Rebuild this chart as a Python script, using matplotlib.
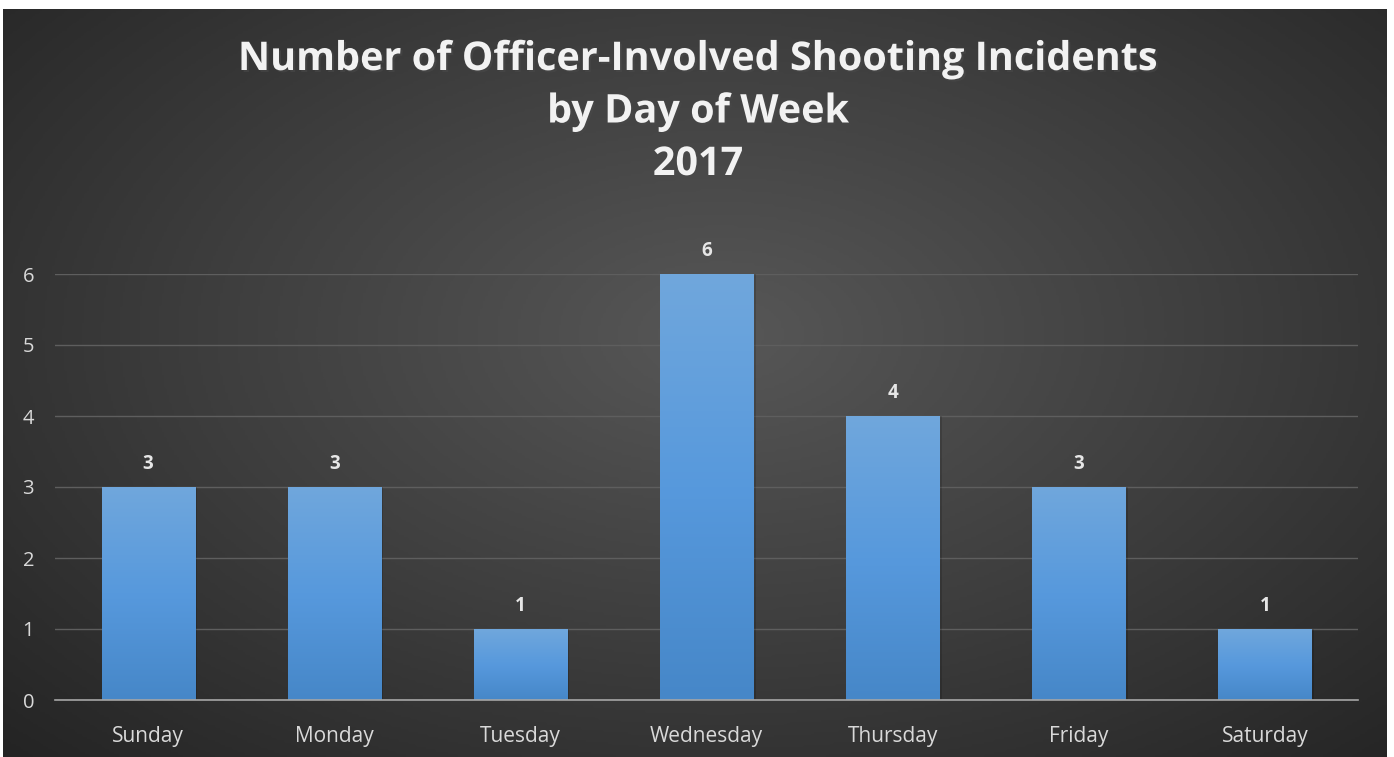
import numpy as np
import matplotlib
matplotlib.use("Agg")
import matplotlib.pyplot as plt
import matplotlib.patheffects as pe
from matplotlib.colors import LinearSegmentedColormap

days = ["Sunday", "Monday", "Tuesday", "Wednesday", "Thursday", "Friday", "Saturday"]
incidents = [3, 3, 1, 6, 4, 3, 1]
yticks = [0, 1, 2, 3, 4, 5, 6]
title = "Number of Officer-Involved Shooting Incidents\nby Day of Week\n2017"

W, H = 1394, 757
fig = plt.figure(figsize=(W / 100, H / 100), dpi=100)
fig.patch.set_facecolor("white")

# dark radial gradient background
bg = fig.add_axes([3 / W, 0, (1387 - 3) / W, (H - 9) / H])
bg.set_axis_off()
yy, xx = np.mgrid[0:300, 0:560]
cx, cy = 290, 130
r = np.sqrt(((xx - cx) / 560) ** 2 + ((yy - cy) / 330) ** 2)
r = np.clip(r / 0.75, 0, 1)
cmap_bg = LinearSegmentedColormap.from_list("bg", ["#575757", "#3e3e3e", "#242424"])
bg.imshow(r, cmap=cmap_bg, aspect="auto", extent=[0, 1, 0, 1], origin="upper")
bg.set_xlim(0, 1)
bg.set_ylim(0, 1)

font = ["Open Sans", "DejaVu Sans"]

ax = fig.add_axes([55 / W, 1 - 700 / H, (1358 - 55) / W, (700 - 274) / H])
ax.patch.set_alpha(0)
x = np.arange(len(days))
bars = ax.bar(x, incidents, width=0.5, color="none", edgecolor="none", zorder=3)

grad = np.linspace(0, 1, 256).reshape(-1, 1)
cmap_bar = LinearSegmentedColormap.from_list("bar", ["#4687c8", "#5799dd", "#70a7dc"])
for b in bars:
    x0, w, h = b.get_x(), b.get_width(), b.get_height()
    # soft shadow
    ax.bar(x0 + w / 2 + 0.008, h, width=w + 0.012, color="#000000", alpha=0.15, zorder=2,
           linewidth=0)
    im = ax.imshow(grad, cmap=cmap_bar, aspect="auto", origin="lower",
                   extent=[x0, x0 + w, 0, h], zorder=3, vmin=0, vmax=1)
    im.set_clip_path(b)
    ax.text(x0 + w / 2, h + 0.18, str(h), ha="center", va="bottom", color="#e6e6e6",
            fontsize=13.5, fontweight="bold", family=font, zorder=4)

ax.set_xlim(-0.5, len(days) - 0.5)
ax.set_ylim(0, 6)
ax.set_yticks(yticks)
ax.set_yticklabels([str(t) for t in yticks], family=font, fontsize=14.5, color="#d9d9d9")
ax.set_xticks(x)
ax.set_xticklabels(days, family=font, fontsize=15, color="#d9d9d9")
ax.tick_params(axis="both", length=0)
ax.tick_params(axis="y", pad=15)
ax.tick_params(axis="x", pad=19)
ax.grid(axis="y", color="#5e5e5e", linewidth=1.0, zorder=0)
ax.set_axisbelow(True)
for s in ["top", "right", "left"]:
    ax.spines[s].set_visible(False)
ax.spines["bottom"].set_color("#a6a6a6")
ax.spines["bottom"].set_linewidth(1.2)
ax.spines["bottom"].set_zorder(5)

fig.text(698 / W, 1 - 112 / H, title, ha="center", va="center", color="#f2f2f2",
         fontsize=28.5, fontweight="bold", family=font, linespacing=1.45,
         path_effects=[pe.withSimplePatchShadow(offset=(1.5, -1.5), alpha=0.6)])

fig.savefig("out.png", dpi=100, facecolor=fig.get_facecolor())
